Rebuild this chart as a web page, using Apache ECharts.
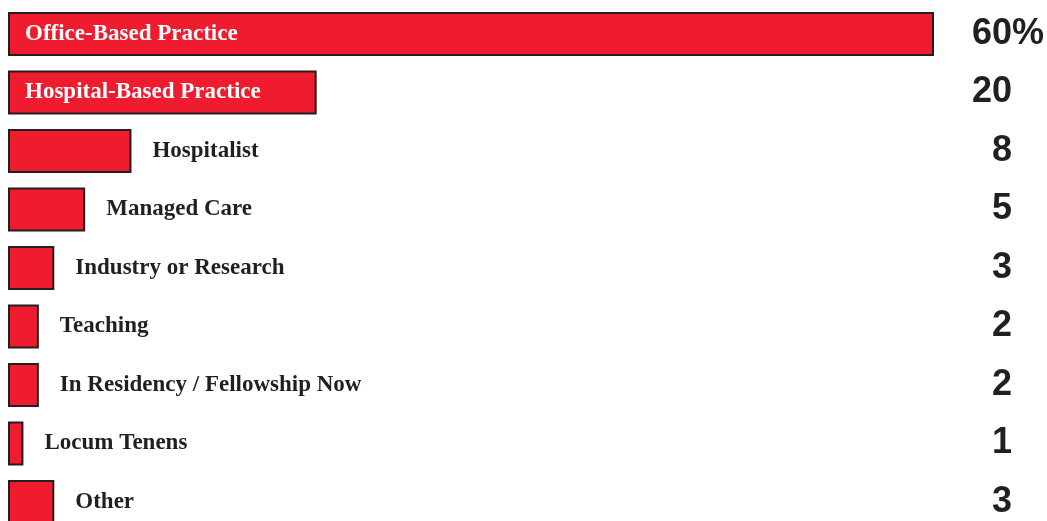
<!DOCTYPE html>
<html>
<head>
<meta charset="utf-8">
<script src="https://cdn.jsdelivr.net/npm/echarts@6/dist/echarts.min.js"></script>
<style>
  html, body { margin: 0; padding: 0; background: #ffffff; }
  #chart { width: 1047px; height: 521px; }
</style>
</head>
<body>
<div id="chart"></div>
<script>
// Practice settings, share of respondents (%)
const categories = [
  'Office-Based Practice',
  'Hospital-Based Practice',
  'Hospitalist',
  'Managed Care',
  'Industry or Research',
  'Teaching',
  'In Residency / Fellowship Now',
  'Locum Tenens',
  'Other'
];
const values = [60, 20, 8, 5, 3, 2, 2, 1, 3];
// Rows whose name is written inside the bar
const insideRows = [0, 1];

const RED = '#ee1c2e';
const INK = '#231f20';
const SERIF = '"Liberation Serif", "DejaVu Serif", serif';
const NARROW = '"Liberation Sans Narrow", "Liberation Sans", sans-serif';

const chart = echarts.init(document.getElementById('chart'));

const barData = values.map((v, i) => {
  const inside = insideRows.includes(i);
  return {
    value: v,
    label: inside
      ? { position: 'insideLeft', distance: 17, color: '#ffffff' }
      : { position: 'right', distance: 21, color: INK }
  };
});

chart.setOption({
  animation: false,
  grid: {
    left: 8, top: 4.75, width: 926, height: 526.5,
    containLabel: false,
    outerBoundsMode: 'none'
  },
  xAxis: {
    type: 'value', min: 0, max: 60,
    show: false
  },
  yAxis: [
    {
      type: 'category', data: categories, inverse: true,
      show: false
    },
    {
      type: 'category', data: values, inverse: true,
      position: 'right',
      axisLine: { show: false }, axisTick: { show: false },
      axisLabel: {
        align: 'left',
        margin: 38,
        formatter: (v, i) => i === 0 ? '{n|' + v + '}{p|%}' : '{n|' + v + '}',
        rich: {
          n: { width: 40, align: 'right', fontFamily: NARROW, fontWeight: 'bold', fontSize: 36, color: INK },
          p: { fontFamily: NARROW, fontWeight: 'bold', fontSize: 36, color: INK }
        }
      }
    }
  ],
  series: [{
    type: 'bar',
    data: barData,
    barWidth: 44,
    itemStyle: { color: RED, borderColor: INK, borderWidth: 2 },
    label: {
      show: true,
      formatter: p => categories[p.dataIndex],
      fontFamily: SERIF,
      fontWeight: 'bold',
      fontSize: 23
    }
  }]
});
</script>
</body>
</html>
